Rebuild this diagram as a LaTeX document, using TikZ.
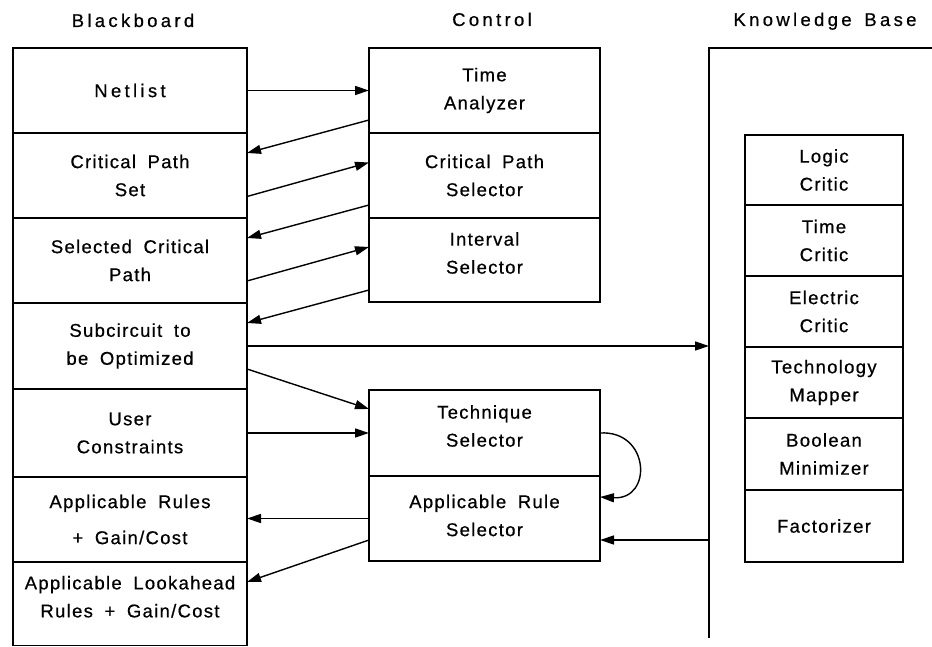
\documentclass[tikz,border=0pt]{standalone}
\usepackage{fontspec}
\setmainfont{Liberation Sans}[LetterSpace=7, WordSpace=1.8, FakeBold=0.6]
\newfontfamily\widefont{Liberation Sans}[LetterSpace=18, WordSpace=1.5, FakeBold=0.6]
\usetikzlibrary{arrows.meta}

\begin{document}
\begin{tikzpicture}[x=1pt, y=-1pt, line width=1.4pt,
  font=\fontsize{18.5}{28}\selectfont,
  blk/.style={draw, rectangle, inner sep=0pt, outer sep=0pt, align=center, minimum width=234pt},
  ctl/.style={draw, rectangle, inner sep=0pt, outer sep=0pt, align=center, minimum width=231pt},
  kbi/.style={draw, rectangle, inner sep=0pt, outer sep=0pt, align=center, minimum width=158pt},
  lbl/.style={inner sep=0pt, align=center},
  ttl/.style={inner sep=0pt, anchor=base, font=\fontsize{18.5}{28}\widefont},
  conn/.style={-{Triangle[length=14pt, width=9pt]}}]

\useasboundingbox (0,0) rectangle (932,647);
\fill[white] (0,0) rectangle (932,647);

% column headings
\node[ttl] (tbb)  at (133,27) {Blackboard};
\node[ttl] (tctl) at (492,26) {Control};
\node[ttl] (tkb)  at (825,26) {Knowledge Base};

% blackboard entries
\node[blk, minimum height=85pt] (net) at (130,90.5) {{\widefont Netlist}};
\node[blk, minimum height=85pt] (cps) at (130,175.5) {Critical Path\\Set};
\node[blk, minimum height=85pt] (scp) at (130,260.5) {Selected Critical\\Path};
\node[blk, minimum height=86pt] (sub) at (130,346) {Subcircuit to\\be Optimized};
\node[blk, minimum height=88pt] (usr) at (130,433) {User\\Constraints};
\node[blk, minimum height=85pt] (apr) at (130,519.5) {Applicable Rules\\[8pt]+ Gain/Cost};
\node[blk, minimum height=83.5pt] (alr) at (130,603.75) {};
\node[lbl] (alr-t) at ([yshift=7pt]alr.center) {Applicable Lookahead\\Rules + Gain/Cost};

% control modules
\node[ctl, minimum height=85pt] (ta) at (484.5,90.5) {Time\\Analyzer};
\node[ctl, minimum height=85pt] (cpsel) at (484.5,175.5) {Critical Path\\Selector};
\node[ctl, minimum height=84pt] (isel) at (484.5,260) {};
\node[lbl] (isel-t) at ([yshift=7pt]isel.center) {Interval\\Selector};
\node[ctl, minimum height=86pt] (tech) at (484.5,433) {};
\node[lbl] (tech-t) at ([yshift=7pt]tech.center) {Technique\\Selector};
\node[ctl, minimum height=85pt] (ars) at (484.5,518.5) {};
\node[lbl] (ars-t) at ([yshift=3pt]ars.center) {Applicable Rule\\Selector};

% knowledge base frame
\node[inner sep=0pt, outer sep=0pt, minimum width=226pt, minimum height=590pt] (kb) at (822,343) {};
\draw (kb.north east) -- (kb.north west) -- (kb.south west);

% knowledge base modules
\node[kbi, minimum height=70pt] (logic) at (824,170) {Logic\\Critic};
\node[kbi, minimum height=71pt] (tcrit) at (824,240.5) {Time\\Critic};
\node[kbi, minimum height=71pt] (ecrit) at (824,311.5) {Electric\\Critic};
\node[kbi, minimum height=71pt] (tmap) at (824,382.5) {Technology\\Mapper};
\node[kbi, minimum height=72pt] (bmin) at (824,454) {Boolean\\Minimizer};
\node[kbi, minimum height=72pt] (fact) at (824,526) {Factorizer};

% data flow between blackboard and control
\draw[conn] (net.east) -- (ta.west);
\draw[conn] ([yshift=-29.5pt]ta.west) -- ([yshift=22.5pt]cps.east);
\draw[conn] ([yshift=-21pt]cps.east) -- ([yshift=13pt]cpsel.west);
\draw[conn] ([yshift=-29.5pt]cpsel.west) -- ([yshift=22.5pt]scp.east);
\draw[conn] ([yshift=-20.5pt]scp.east) -- ([yshift=13pt]isel.west);
\draw[conn] ([yshift=-30pt]isel.west) -- ([yshift=23pt]sub.east);
\draw[conn] (sub.east) -- (sub.east -| kb.west);
\draw[conn] ([yshift=-23pt]sub.east) -- ([yshift=24pt]tech.west);
\draw[conn] (usr.east) -- (tech.west);
\draw[conn] (tech.east) .. controls +(50,-3) and +(53,3) .. ([yshift=21.5pt]ars.east);
\draw[conn] (ars.west) -- (ars.west -| apr.east);
\draw[conn] ([yshift=-21.5pt]ars.west) -- ([yshift=21.75pt]alr.east);
\path ([yshift=-21.5pt]ars.east) coordinate (arsin);
\draw[conn] (arsin -| kb.west) -- (arsin);
\end{tikzpicture}
\end{document}
